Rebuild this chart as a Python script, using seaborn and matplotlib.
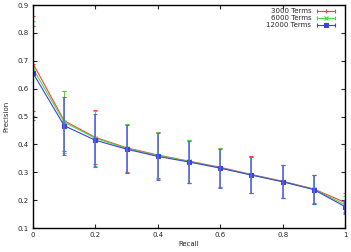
import pandas as pd
import matplotlib
matplotlib.use('Agg')
import matplotlib.pyplot as plt
from matplotlib.lines import Line2D
from matplotlib.legend_handler import HandlerLine2D, HandlerTuple
import seaborn as sns

recall = [0.0, 0.1, 0.2, 0.3, 0.4, 0.5, 0.6, 0.7, 0.8, 0.9, 1.0]

prec_3000 = [0.690, 0.485, 0.425, 0.388, 0.362, 0.340, 0.318, 0.292, 0.268, 0.240, 0.192]
prec_6000 = [0.672, 0.480, 0.422, 0.386, 0.360, 0.339, 0.316, 0.291, 0.267, 0.239, 0.184]
prec_12000 = [0.656, 0.467, 0.415, 0.383, 0.357, 0.337, 0.315, 0.290, 0.266, 0.238, 0.177]

err_3000 = [0.170, 0.107, 0.097, 0.087, 0.083, 0.077, 0.070, 0.065, 0.059, 0.051, 0.033]
err_6000 = [0.170, 0.110, 0.098, 0.088, 0.083, 0.077, 0.070, 0.065, 0.059, 0.051, 0.030]
err_12000 = [0.170, 0.104, 0.095, 0.087, 0.083, 0.077, 0.070, 0.065, 0.059, 0.051, 0.025]

labels = ['3000 Terms', '6000 Terms', '12000 Terms']
colors = ['#ff4040', '#40e040', '#4040e0']
markers = ['+', 'x', 's']

df = pd.DataFrame({
    'Recall': recall * 3,
    'Precision': prec_3000 + prec_6000 + prec_12000,
    'err': err_3000 + err_6000 + err_12000,
    'Terms': [labels[0]] * 11 + [labels[1]] * 11 + [labels[2]] * 11,
})

sns.set_style('ticks')
plt.rcParams['font.family'] = ['DejaVu Sans']
fs = 5

fig = plt.figure(figsize=(3.51, 2.52), dpi=100)
ax = fig.add_axes([0.094, 0.095, 0.889, 0.885])

# gnuplot-like: each series = line + its error bars, blue ends on top
handles = []
hmap = {}
for i, (lab, col, mk) in enumerate(zip(labels, colors, markers)):
    d = df[df['Terms'] == lab]
    ms = 2.5 if mk == 's' else 3.5
    ew = 1.2 if i == 2 else 0.5
    ecol = '#5868e0' if i == 2 else col
    sns.lineplot(data=d, x='Recall', y='Precision', color=col, marker=mk,
                 markersize=ms, markeredgewidth=0.8, markeredgecolor=col,
                 linewidth=0.8, ax=ax)
    ax.errorbar(d['Recall'], d['Precision'], yerr=d['err'], fmt='none',
                ecolor=ecol, elinewidth=ew, capsize=1.5, capthick=0.8)
    caps = Line2D([], [], color=col, lw=0.8, marker='|', markersize=3,
                  markeredgewidth=0.8)
    mid = Line2D([], [], color=col, lw=0, marker=mk, markersize=ms,
                 markeredgewidth=0.8)
    hmap[caps] = HandlerLine2D(numpoints=2)
    hmap[mid] = HandlerLine2D(numpoints=1)
    handles.append((caps, mid))

hmap[tuple] = HandlerTuple(ndivide=1, pad=0)

ax.set_xlim(0, 1)
ax.set_ylim(0.1, 0.9)
ax.set_xticks([0, 0.2, 0.4, 0.6, 0.8, 1])
ax.set_xticklabels(['0', '0.2', '0.4', '0.6', '0.8', '1'])
ax.set_yticks([0.1, 0.2, 0.3, 0.4, 0.5, 0.6, 0.7, 0.8, 0.9])
ax.tick_params(direction='in', labelsize=fs, length=3, width=0.8,
               top=True, right=True, pad=3)
for s in ax.spines.values():
    s.set_linewidth(1.0)
    s.set_color('black')

ax.set_xlabel('Recall', fontsize=fs, labelpad=2)
ax.set_ylabel('Precision', fontsize=fs, labelpad=6)

ax.legend(handles, labels, handler_map=hmap, loc='upper right',
          bbox_to_anchor=(0.974, 0.985), fontsize=fs,
          frameon=False, markerfirst=False, handlelength=3.2,
          labelspacing=0.15, borderaxespad=0, borderpad=0,
          handletextpad=0.5)

fig.savefig('out.png', dpi=100)
